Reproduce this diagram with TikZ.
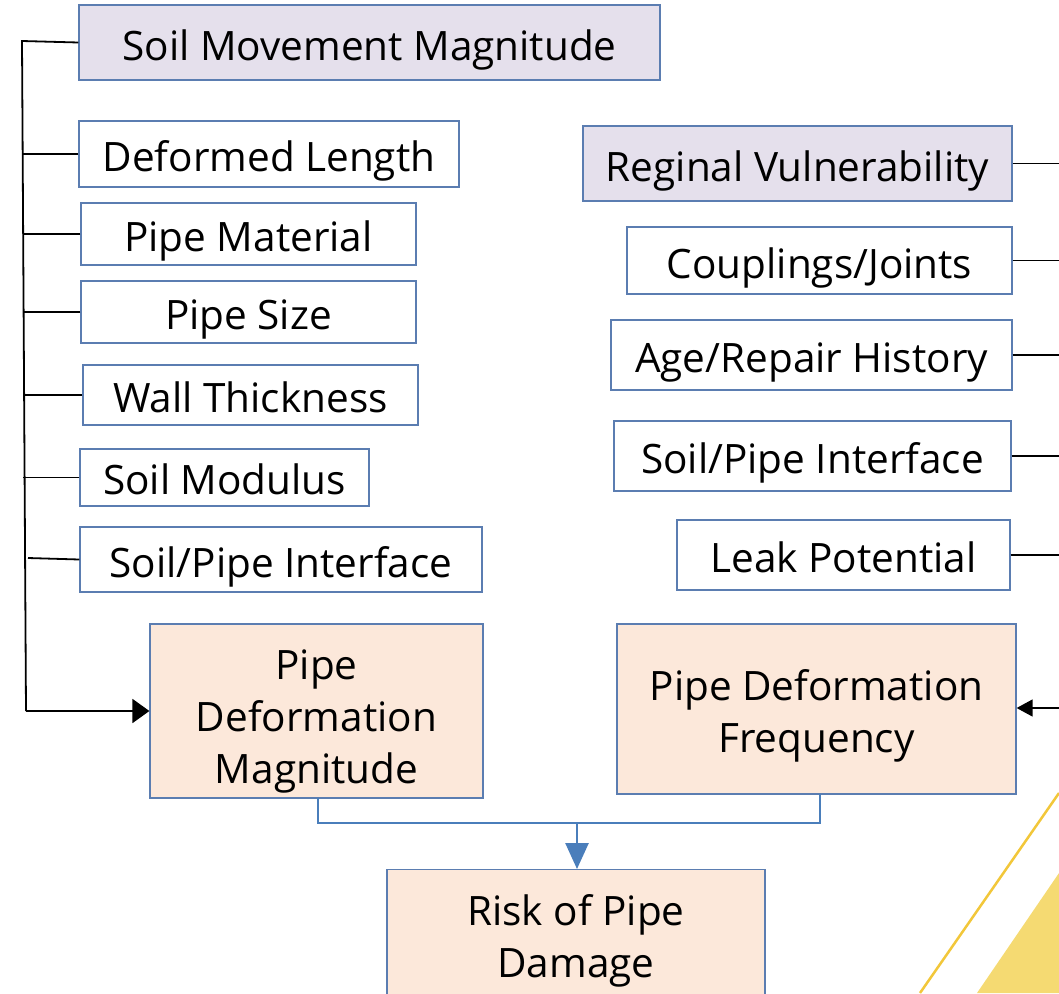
\documentclass[tikz,border=0pt]{standalone}
\usepackage{fontspec}
\setmainfont{Open Sans}
\usetikzlibrary{arrows.meta}
\definecolor{boxline}{HTML}{5B7DB1}
\definecolor{lav}{HTML}{E5E0EC}
\definecolor{peach}{HTML}{FCE8DA}
\definecolor{flow}{HTML}{4A7EBB}
\definecolor{goldline}{HTML}{F2C73A}
\definecolor{goldfill}{HTML}{F5DA72}
\tikzset{
  factor/.style={draw=boxline, line width=1.2pt, inner sep=0pt, font=\fontsize{40.5}{52}\selectfont},
  driver/.style={factor, fill=lav},
  outcome/.style={draw=boxline, line width=1.2pt, fill=peach, inner sep=0pt, align=center, font=\fontsize{40.5}{52}\selectfont},
  tie/.style={line width=1.8pt, black},
  thintie/.style={line width=1.4pt, black},
  feed/.style={tie, -{Triangle[length=17pt,width=24pt]}},
  feedr/.style={thintie, -{Triangle[length=16pt,width=17pt]}},
  merge/.style={line width=2.6pt, flow},
}
% box from its corner coordinates, text set with a small vertical offset
\newcommand{\factorbox}[8][0]{%
  \node[#2, minimum width=#5pt-#3pt, minimum height=#6pt-#4pt] (#7) at ({(#3+#5)/2}, {(#4+#6)/2}) {};
  \node[#2, draw=none, fill=none, minimum width=0pt, minimum height=0pt] (#7-t) at ({(#3+#5)/2}, {(#4+#6)/2+#1}) {#8};}
\begin{document}
\begin{tikzpicture}[x=1pt,y=-1pt]
\useasboundingbox (0,0) rectangle (1059,993);
% decorative corner
\fill[goldfill] (977,993) -- (1059,873) -- (1059,993) -- cycle;
\draw[goldline, line width=2.5pt] (920,993) -- (1059,793);

% left column
\factorbox[7]{driver}{79}{5}{660}{80}{smm}{Soil Movement Magnitude}
\factorbox[7]{factor}{79}{121}{459}{187}{dl}{Deformed Length}
\factorbox[7]{factor}{81}{203}{416}{265}{pm}{Pipe Material}
\factorbox[7]{factor}{81}{281}{416}{343}{ps}{Pipe Size}
\factorbox[2]{factor}{83}{365}{418}{425}{wt}{Wall Thickness}
\factorbox[2]{factor}{80}{449}{369}{506}{sm}{Soil Modulus}
\factorbox[7]{factor}{80}{527}{482}{592}{spl}{Soil/Pipe Interface}
\factorbox[10]{outcome}{150}{624}{483}{798}{pdm}{Pipe\\Deformation\\Magnitude}

% right column
\factorbox[7]{driver}{583}{126}{1012}{201}{rv}{Reginal Vulnerability}
\factorbox[7]{factor}{627}{227}{1012}{294}{cj}{Couplings/Joints}
\factorbox[7]{factor}{611}{320}{1012}{390}{arh}{Age/Repair History}
\factorbox[7]{factor}{614}{421}{1011}{491}{spr}{Soil/Pipe Interface}
\factorbox[2]{factor}{677}{520}{1010}{590}{lp}{Leak Potential}
\factorbox[7]{outcome}{617}{624}{1016}{794}{pdf}{Pipe Deformation\\Frequency}

% result
\node[outcome, minimum width=378pt, minimum height=160pt, anchor=north] (risk) at (576,869) {};
\node[font=\fontsize{40.5}{52}\selectfont, align=center, anchor=base] (risktext) at (576,977) {Risk of Pipe\\Damage};

% left bracket
\coordinate (lt) at (22,41);
\coordinate (lb) at (26,711);
\draw[tie] (smm.west) -- (lt) -- (lb);
\foreach \b in {dl,pm,ps,wt,sm} \draw[tie] (\b.west) -- (\b.west -| 23,0);
\draw[tie] (spl.west) -- (28,558);
\draw[feed] (lb) -- (pdm.west |- lb);

% right side leads
\foreach \b in {rv,cj,arh,spr,lp} \draw[thintie] (\b.east) -- (\b.east -| 1059,0);
\coordinate (rin) at (1059,708);
\draw[feedr] (rin) -- (pdf.east |- rin);

% merge into result
\coordinate (ml) at (318,823);
\coordinate (mr) at (820,823);
\coordinate (mc) at (577,823);
\draw[merge] (318,798) -- (ml) -- (mr) -- (820,794);
\draw[merge, -{Triangle[length=26pt,width=23pt]}] (mc) -- (risk.north -| mc);
\end{tikzpicture}
\end{document}
